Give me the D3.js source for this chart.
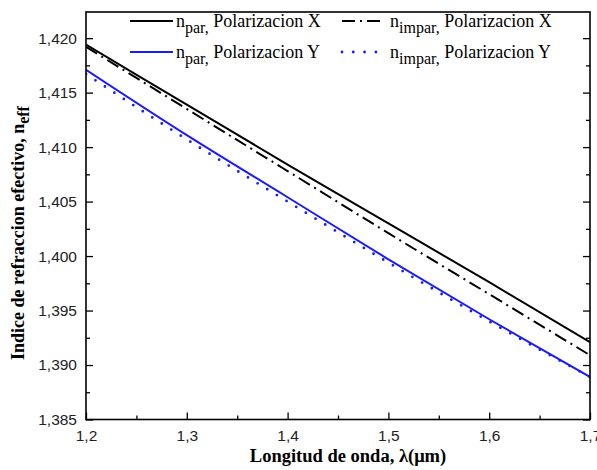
<html>
<head>
  <script src="https://d3js.org/d3.v7.min.js"></script>
  <style>
    body { margin: 0; background: #fff; }
    .tick text { font-family: "Liberation Sans", Arial, sans-serif; font-size: 15.5px; fill: #222; }
    .tick line { stroke: #000; stroke-width: 1.3px; }
    .serif { font-family: "Liberation Serif", "Times New Roman", serif; fill: #000; }
  </style>
</head>
<body>
  <svg id="chart" width="597" height="470"></svg>
  <script>
    // wavelength (um) and effective index for the four modes
    const lambda = [1.2, 1.3, 1.4, 1.5, 1.6, 1.7];
    const nParX = [1.4194, 1.4139, 1.4084, 1.4030, 1.3976, 1.3921];
    const nImparX = [1.4192, 1.4135, 1.4078, 1.4021, 1.3965, 1.3909];
    const nParY = [1.4171, 1.4111, 1.4054, 1.3997, 1.3942, 1.3889];
    const nImparY = [1.4167, 1.4107, 1.4050, 1.3994, 1.3940, 1.3889];

    const xTicks = [1.2, 1.3, 1.4, 1.5, 1.6, 1.7];
    const xMinor = [1.25, 1.35, 1.45, 1.55, 1.65];
    const yTicks = [1.385, 1.390, 1.395, 1.400, 1.405, 1.410, 1.415, 1.420];
    const yMinor = [1.3875, 1.3925, 1.3975, 1.4025, 1.4075, 1.4125, 1.4175];

    const series = [
      { name: 'par', pol: 'X', values: nParX, color: '#000', dash: null, width: 2 },
      { name: 'impar', pol: 'X', values: nImparX, color: '#000', dash: '13,5,2,5', width: 2 },
      { name: 'par', pol: 'Y', values: nParY, color: '#1a1aff', dash: null, width: 2 },
      { name: 'impar', pol: 'Y', values: nImparY, color: '#1a1aff', dash: '0,11.3', width: 2.8, cap: 'round' }
    ];

    const svg = d3.select('#chart');
    const mLeft = 86, mRight = 590, mTop = 12, mBottom = 419.5;

    const x = d3.scaleLinear().domain([1.2, 1.7]).range([mLeft, mRight]);
    const y = d3.scaleLinear().domain([1.385, 1.4224]).range([mBottom, mTop]);

    const comma = f => (v => d3.format(f)(v).replace('.', ','));

    // axes with inward ticks
    svg.append('g').attr('transform', `translate(0,${mBottom})`)
      .call(d3.axisBottom(x).tickValues(xTicks).tickSize(-7).tickPadding(10).tickFormat(comma('.1f')))
      .call(g => g.select('.domain').remove());
    svg.append('g').attr('transform', `translate(0,${mBottom})`)
      .call(d3.axisBottom(x).tickValues(xMinor).tickSize(-4).tickFormat(''))
      .call(g => g.select('.domain').remove());
    svg.append('g').attr('transform', `translate(${mLeft},0)`)
      .call(d3.axisLeft(y).tickValues(yTicks).tickSize(-7).tickPadding(9).tickFormat(comma('.3f')))
      .call(g => g.select('.domain').remove());
    svg.append('g').attr('transform', `translate(${mLeft},0)`)
      .call(d3.axisLeft(y).tickValues(yMinor).tickSize(-4).tickFormat(''))
      .call(g => g.select('.domain').remove());
    svg.append('g').attr('transform', `translate(${mRight},0)`)
      .call(d3.axisRight(y).tickValues(yTicks).tickSize(-7).tickFormat(''))
      .call(g => g.select('.domain').remove());
    svg.append('g').attr('transform', `translate(${mRight},0)`)
      .call(d3.axisRight(y).tickValues(yMinor).tickSize(-4).tickFormat(''))
      .call(g => g.select('.domain').remove());

    svg.append('defs').append('clipPath').attr('id', 'clip')
      .append('rect').attr('x', mLeft).attr('y', mTop).attr('width', mRight - mLeft).attr('height', mBottom - mTop);

    const line = d3.line().curve(d3.curveMonotoneX);
    svg.append('g').attr('clip-path', 'url(#clip)')
      .selectAll('path')
      .data(series)
      .join('path')
      .attr('fill', 'none')
      .attr('stroke', d => d.color)
      .attr('stroke-width', d => d.width)
      .attr('stroke-dasharray', d => d.dash)
      .attr('stroke-linecap', d => d.cap || 'butt')
      .attr('d', d => line(d.values.map((v, i) => [x(lambda[i]), y(v)])));

    // frame
    svg.append('rect')
      .attr('x', mLeft).attr('y', mTop).attr('width', mRight - mLeft).attr('height', mBottom - mTop)
      .attr('fill', 'none').attr('stroke', '#000').attr('stroke-width', 1.6);

    // legend
    const legendPos = [[130, 21], [342, 21], [130, 52], [342, 52]];
    const leg = svg.append('g').selectAll('g').data(series).join('g')
      .attr('transform', (d, i) => `translate(${legendPos[i][0]},${legendPos[i][1]})`);
    leg.append('line')
      .attr('x1', 0).attr('x2', d => d.name === 'par' ? 43 : 38).attr('y1', 0).attr('y2', 0)
      .attr('stroke', d => d.color)
      .attr('stroke-width', d => d.width)
      .attr('stroke-dasharray', d => d.dash)
      .attr('stroke-linecap', d => d.cap || 'butt');
    const lt = leg.append('text').attr('class', 'serif')
      .attr('x', d => d.name === 'par' ? 46 : 48).attr('y', 6)
      .style('font-size', '18px');
    lt.append('tspan').text('n');
    lt.append('tspan').attr('dy', 6).style('font-size', '16px').text(d => d.name + ',');
    lt.append('tspan').attr('dy', -6).text(d => ' Polarizacion ' + d.pol);

    // axis titles
    svg.append('text').attr('class', 'serif')
      .attr('x', 348).attr('y', 462).attr('text-anchor', 'middle')
      .style('font-size', '18.5px').style('font-weight', 'bold')
      .text('Longitud de onda, \u03bb(\u03bcm)');

    const yt = svg.append('text').attr('class', 'serif')
      .attr('transform', 'translate(24,233) rotate(-90)')
      .attr('text-anchor', 'middle')
      .style('font-size', '18px').style('font-weight', 'bold');
    yt.append('tspan').text('Indice de refraccion efectivo, n');
    yt.append('tspan').attr('dy', 5).style('font-size', '16px').text('eff');
  </script>
</body>
</html>
